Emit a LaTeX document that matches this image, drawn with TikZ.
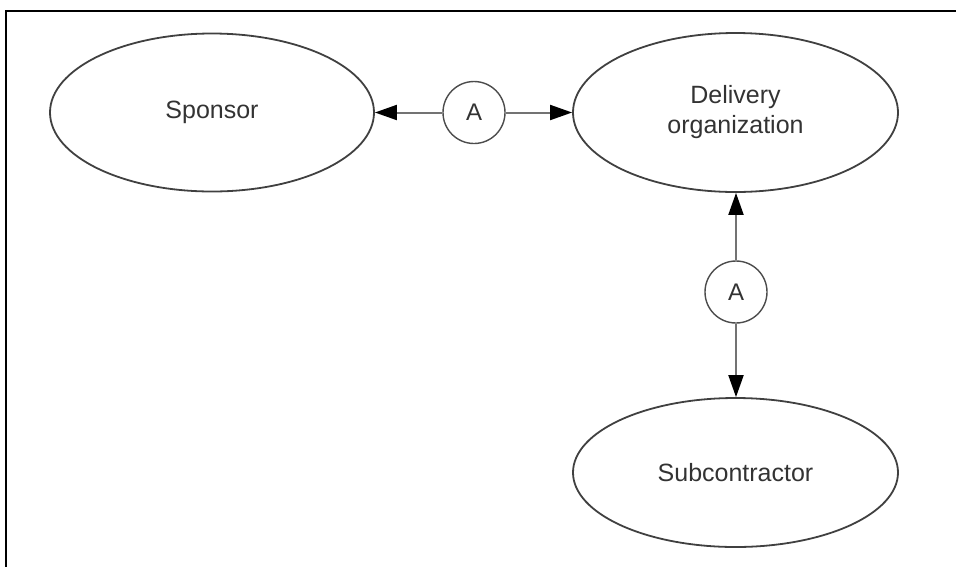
\documentclass[tikz,border=0pt]{standalone}
\usepackage{fontspec}
\setmainfont{Liberation Sans}
\usetikzlibrary{shapes.geometric,arrows.meta}
\begin{document}
\begin{tikzpicture}[x=1pt,y=-1pt,
  party/.style={ellipse,draw=black!75,line width=1.8pt,inner sep=0pt,
    text=black!80,font=\fontsize{25}{30}\selectfont,align=center},
  relnode/.style={circle,draw=black!70,line width=1.4pt,minimum size=62pt,inner sep=0pt,
    text=black!80,font=\fontsize{24}{28}\selectfont},
  rel/.style={draw=black!55,line width=2pt,-{Triangle[length=22pt,width=15pt,fill=black,black]}}
  ]
\useasboundingbox (0,0) rectangle (956,566);
\draw[line width=2.6pt] (6,570) -- (6,11) -- (960,11);
\node[party,minimum width=324pt,minimum height=158pt] (spon) at (212,112.5) {Sponsor};
\node[party,minimum width=325pt,minimum height=159pt] (deliv) at (735.5,112.5) {Delivery\\organization};
\node[party,minimum width=325pt,minimum height=149pt] (sub) at (735.5,472.5) {Subcontractor};
\node[relnode] (a1) at (474,112.5) {A};
\node[relnode] (a2) at (736,292) {A};
\draw[rel] (a1) -- (spon.east);
\draw[rel] (a1) -- (deliv.west);
\draw[rel] (a2) -- (a2 |- deliv.south);
\draw[rel] (a2) -- (a2 |- sub.north);
\end{tikzpicture}
\end{document}
